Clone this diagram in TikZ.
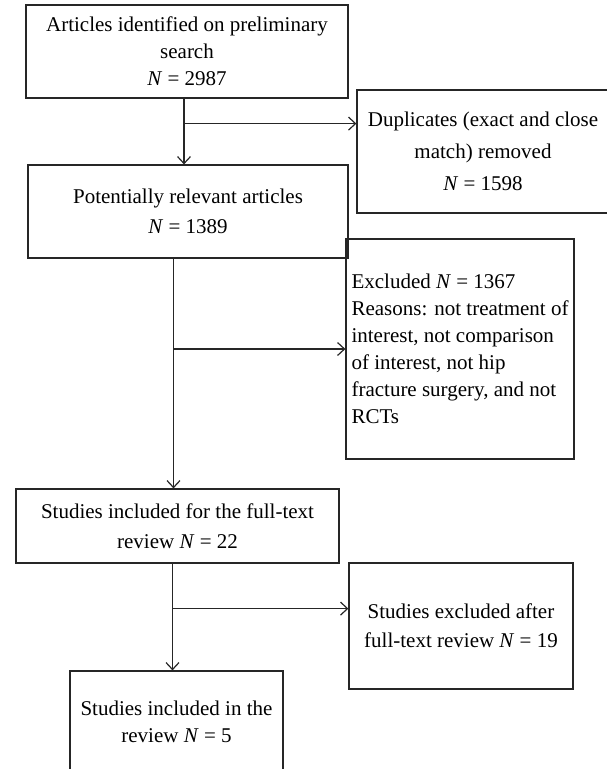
\documentclass[tikz,border=0pt]{standalone}
\usepackage{fontspec}
\setmainfont{Liberation Serif}
\usetikzlibrary{arrows.meta}

\newcommand{\nn}{\textit{N}}

\begin{document}
\begin{tikzpicture}[x=1pt,y=-1pt]
\tikzset{box/.style = {shape=rectangle,draw=black!85,line width=1.2pt,inner sep=0pt,align=center,font=\fontsize{21}{27}\selectfont}}
\tikzset{edge/.style = {-{Straight Barb[length=7pt,width=13pt]},line width=1.2pt,draw=black!85}}
\useasboundingbox (0,0) rectangle (607,769);

% Study selection flow
\node[box,minimum width=322,minimum height=93] (A) at (187,51.5) {Articles identified on preliminary\\search\\\nn{} = 2987};
\node[box,minimum width=252,minimum height=123,font=\fontsize{21}{32}\selectfont] (B) at (483,151.5) {Duplicates (exact and close\\match) removed\\\nn{} = 1598};
\node[box,minimum width=320,minimum height=93,font=\fontsize{21}{30}\selectfont] (C) at (188,211.5) {Potentially relevant articles\\\nn{} = 1389};
\node[box,minimum width=228,minimum height=220,align=left] (D) at (460,349) {Excluded \nn{} = 1367\\Reasons: not treatment of\\interest, not comparison\\of interest, not hip\\fracture surgery, and not\\RCTs};
\node[box,minimum width=323,minimum height=74,font=\fontsize{21}{30}\selectfont] (E) at (177.5,526) {Studies included for the full-text\\review \nn{} = 22};
\node[box,minimum width=224,minimum height=126,font=\fontsize{21}{29}\selectfont] (F) at (461,626) {Studies excluded after\\full-text review \nn{} = 19};
\node[box,minimum width=213,minimum height=101] (G) at (176.5,721.5) {Studies included in the\\review \nn{} = 5};

\path (A.south) ++(-3,25) coordinate (a1);
\path (E.north |- D.west) ++(-4,0) coordinate (c1);
\path (E.south) ++(-5,45) coordinate (e1);

\draw[edge] ([xshift=-3]A.south) -- ([xshift=-3]A.south |- C.north);
\draw[edge] (a1) -- (a1 -| B.west);
\draw[edge] (c1 |- C.south) -- (c1 |- E.north);
\draw[edge] (c1) -- (D.west);
\draw[edge] ([xshift=-5]E.south) -- ([xshift=-5]E.south |- G.north);
\draw[edge] (e1) -- (e1 -| F.west);

\end{tikzpicture}
\end{document}
